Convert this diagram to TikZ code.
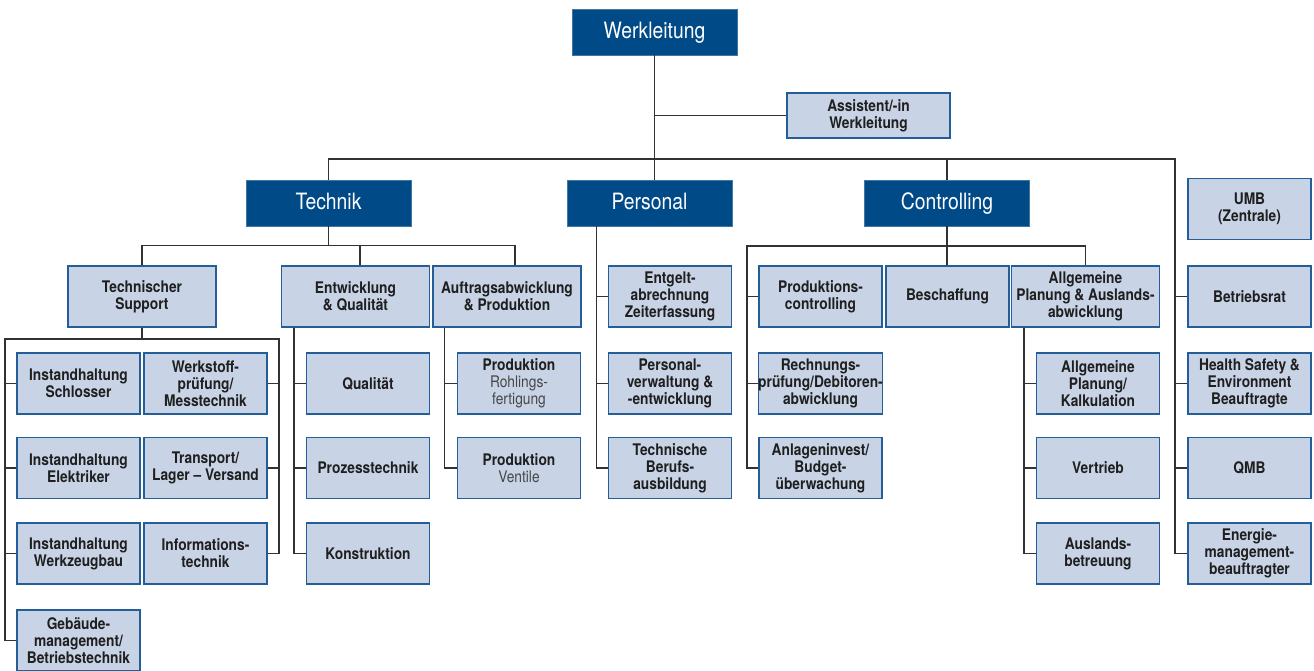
\documentclass[tikz,border=0pt]{standalone}
\usepackage{fontspec}
\setmainfont{TeX Gyre Heros}[FakeStretch=0.86]
\usepackage{xcolor}
\usepackage{tikz}
\usetikzlibrary{positioning}
\definecolor{org_dark}{RGB}{0, 75, 135}
\definecolor{org_light}{RGB}{200, 212, 230}
\definecolor{org_edge}{RGB}{36, 94, 152}
\definecolor{org_line}{RGB}{50, 50, 50}
\definecolor{org_sub}{RGB}{70, 70, 70}
\newcommand{\subline}[1]{{\mdseries\color{org_sub}#1}}

\tikzset{
  head/.style={fill=org_dark, draw=org_dark!75!white, line width=0.8pt, text=white,
    font=\fontsize{22.5}{24}\selectfont, text height=16pt, text depth=4pt,
    minimum width=165pt, minimum height=46pt, inner sep=0pt},
  unit/.style={fill=org_light, draw=org_edge, line width=1.4pt, text=black!88, align=center,
    font=\bfseries\fontsize{16}{17}\selectfont, minimum width=123pt, minimum height=61pt, inner sep=0pt},
  wide/.style={unit, minimum width=148pt},
  link/.style={draw=org_line, line width=1.5pt},
}

\begin{document}
\begin{tikzpicture}[x=1pt, y=-1pt]
  \useasboundingbox (0,0) rectangle (1314,670);

  \node[head] (wl)   at (654.5, 32) {Werkleitung};
  \node[unit, minimum width=163pt, minimum height=45pt] (assi) at (868.5, 115.5) {Assistent/-in\\Werkleitung};
  \node[head] (tech) at (328.5, 203) {Technik};
  \node[head] (pers) at (649.5, 203) {Personal};
  \node[head] (ctrl) at (947, 203)   {Controlling};

  \node[wide] (ts)  at (142, 296.5)    {Technischer\\Support};
  \node[wide] (eq)  at (355.5, 296.5)  {Entwicklung\\\& Qualität};
  \node[wide] (ap)  at (507, 296.5)    {Auftragsabwicklung\\\& Produktion};
  \node[unit] (eg)  at (670, 296.5)    {Entgelt-\\abrechnung\\Zeiterfassung};
  \node[unit] (pc)  at (820.5, 296.5)  {Produktions-\\controlling};
  \node[unit] (bs)  at (947.5, 296.5)  {Beschaffung};
  \node[wide] (apl) at (1085.5, 296.5) {Allgemeine\\Planung \& Auslands-\\abwicklung};
  \node[unit] (umb) at (1249.5, 209)   {UMB\\(Zentrale)};
  \node[unit] (br)  at (1249.5, 296.5) {Betriebsrat};

  \node[unit] (ih1) at (78.5, 383.5)  {Instandhaltung\\Schlosser};
  \node[unit] (ih2) at (78.5, 468)    {Instandhaltung\\Elektriker};
  \node[unit] (ih3) at (78.5, 553.5)  {Instandhaltung\\Werkzeugbau};
  \node[unit] (gm)  at (78.5, 640.5)  {Gebäude-\\management/\\Betriebstechnik};
  \node[unit] (wp)  at (205.5, 383.5) {Werkstoff-\\prüfung/\\Messtechnik};
  \node[unit] (tl)  at (205.5, 468)   {Transport/\\Lager -- Versand};
  \node[unit] (it)  at (205.5, 553.5) {Informations-\\technik};

  \node[unit] (ql)  at (368, 383.5) {Qualität};
  \node[unit] (pt)  at (368, 468)   {Prozesstechnik};
  \node[unit] (ko)  at (368, 553.5) {Konstruktion};

  \node[unit] (pr)  at (519, 383.5) {Produktion\\\subline{Rohlings-}\\\subline{fertigung}};
  \node[unit] (pv)  at (519, 468)   {Produktion\\\subline{Ventile}};

  \node[unit] (pw)  at (670, 383.5) {Personal-\\verwaltung \&\\-entwicklung};
  \node[unit] (ta)  at (670, 468)   {Technische\\Berufs-\\ausbildung};

  \node[unit] (rp)  at (820.5, 383.5) {Rechnungs-\\prüfung/Debitoren-\\abwicklung};
  \node[unit] (ai)  at (820.5, 468)   {Anlageninvest/\\Budget-\\überwachung};

  \node[unit] (ak)  at (1098, 383.5) {Allgemeine\\Planung/\\Kalkulation};
  \node[unit] (vt)  at (1098, 468)   {Vertrieb};
  \node[unit] (ab)  at (1098, 553.5) {Auslands-\\betreuung};

  \node[unit] (hse) at (1249.5, 383.5) {Health Safety \&\\Environment\\Beauftragte};
  \node[unit] (qmb) at (1249.5, 468)   {QMB};
  \node[unit] (en)  at (1249.5, 553.5) {Energie-\\management-\\beauftragter};

  \coordinate (rbus) at (1175, 159);
  \coordinate (tsl)  at (5, 339);
  \coordinate (tsr)  at (279, 339);
  \coordinate (cbl)  at (747, 246);
  \coordinate (eqv)  at ([xshift=13pt]eq.south west);
  \coordinate (apv)  at ([xshift=12pt]ap.south west);
  \coordinate (persv) at ([xshift=30pt]pers.south west);
  \coordinate (aplv) at ([xshift=13pt]apl.south west);

  \draw[link] (wl.south) -- (wl.south |- pers.north);
  \draw[link] (wl.south |- assi.west) -- (assi.west);
  \draw[link] (tech.north) |- (rbus) |- (en.west);
  \draw[link] (ctrl.north) -- (ctrl.north |- rbus);
  \foreach \n in {br, hse, qmb}
    \draw[link] (rbus |- \n.west) -- (\n.west);

  \draw[link] (tech.south) -- ++(0,20);
  \draw[link] (ts.north) -- ++(0,-20) -| ([xshift=8pt]ap.north);
  \draw[link] ([xshift=4.5pt]eq.north) -- ++(0,-20);

  \draw[link] (ts.south) -- (ts.south |- tsl);
  \draw[link] (gm.west) -| (tsl) -- (tsr) |- (it.east);
  \foreach \n in {ih1, ih2, ih3}
    \draw[link] (tsl |- \n.west) -- (\n.west);
  \foreach \n in {wp, tl}
    \draw[link] (tsr |- \n.east) -- (\n.east);

  \draw[link] (eqv) |- (ko.west);
  \foreach \n in {ql, pt}
    \draw[link] (eqv |- \n.west) -- (\n.west);
  \draw[link] (apv) |- (pv.west);
  \draw[link] (apv |- pr.west) -- (pr.west);

  \draw[link] (persv) |- (ta.west);
  \foreach \n in {eg, pw}
    \draw[link] (persv |- \n.west) -- (\n.west);

  \draw[link] (ctrl.south) -- (ctrl.south |- bs.north);
  \draw[link] (ai.west) -| (cbl) -| (apl.north);
  \foreach \n in {pc, rp}
    \draw[link] (cbl |- \n.west) -- (\n.west);
  \draw[link] (aplv) |- (ab.west);
  \foreach \n in {ak, vt}
    \draw[link] (aplv |- \n.west) -- (\n.west);
\end{tikzpicture}
\end{document}
